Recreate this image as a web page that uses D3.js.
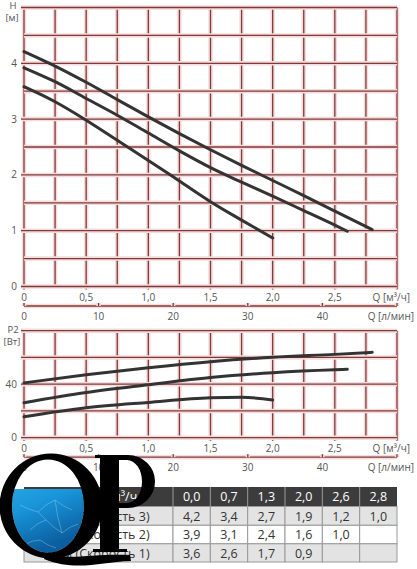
<!DOCTYPE html>
<html>
<head>
<meta charset="utf-8">
<script src="https://cdn.jsdelivr.net/npm/d3@7/dist/d3.min.js"></script>
<style>
  html, body { margin: 0; padding: 0; background: #fff; }
  svg { display: block; font-family: "Open Sans", "DejaVu Sans", sans-serif; }
</style>
</head>
<body>
<svg id="chart" width="417" height="569"></svg>
<script>
// --- data ---
// head curves H [м] against Q [м³/ч]
var headQ3 = [0, 0.25, 0.5, 0.75, 1.0, 1.25, 1.5, 1.75, 2.0, 2.25, 2.5, 2.8];
var headH3 = [4.21, 3.95, 3.66, 3.35, 3.04, 2.74, 2.45, 2.17, 1.9, 1.63, 1.35, 1.02];
var headQ2 = [0, 0.25, 0.5, 0.75, 1.0, 1.25, 1.5, 1.75, 2.0, 2.25, 2.5, 2.6];
var headH2 = [3.92, 3.67, 3.37, 3.07, 2.75, 2.43, 2.13, 1.87, 1.62, 1.36, 1.1, 0.99];
var headQ1 = [0, 0.25, 0.5, 0.75, 1.0, 1.25, 1.5, 1.75, 2.0];
var headH1 = [3.58, 3.31, 2.98, 2.62, 2.26, 1.89, 1.52, 1.19, 0.87];

// power curves P2 [Вт] against Q [м³/ч]
var powerQ3 = [0, 0.5, 1.0, 1.5, 2.0, 2.5, 2.8];
var powerP3 = [41, 47, 52.3, 56.8, 60.1, 62.3, 63.8];
var powerQ2 = [0, 0.5, 1.0, 1.5, 2.0, 2.5, 2.6];
var powerP2 = [26.2, 33.8, 39.6, 45, 48.6, 50.8, 51.1];
var powerQ1 = [0, 0.5, 1.0, 1.5, 1.75, 2.0];
var powerP1 = [15.7, 22.4, 26.4, 29.8, 30.2, 28.2];

// axis ticks
var qTicks = [0, 0.5, 1.0, 1.5, 2.0, 2.5];
var lpmTicks = [0, 10, 20, 30, 40];
var hTicks = [0, 1, 2, 3, 4];
var pTicks = [0, 40];

// table
var tableHeader = "Подача, м³/ч";
var tableFlow = [0.0, 0.7, 1.3, 2.0, 2.6, 2.8];
var tableRowNames = ["Н, м (Скорость 3)", "Н, м (Скорость 2)", "Н, м (Скорость 1)"];
var tableH3 = [4.2, 3.4, 2.7, 1.9, 1.2, 1.0];
var tableH2 = [3.9, 3.1, 2.4, 1.6, 1.0];
var tableH1 = [3.6, 2.6, 1.7, 0.9];

var svg = d3.select("#chart");
var comma = function(v) { return v === 0 ? "0" : d3.format(".1f")(v).replace(".", ","); };
var comma1 = function(v) { return d3.format(".1f")(v).replace(".", ","); };

var gridDark = "#803838", gridGlow = "#f5dcdc", textCol = "#555";

// shared x scale
var x = d3.scaleLinear().domain([0, 3]).range([24, 397]);
var yH = d3.scaleLinear().domain([0, 5]).range([286.5, 7.5]);
var yP = d3.scaleLinear().domain([0, 80]).range([437.7, 330.7]);

var line = function(y) {
  return d3.line().curve(d3.curveMonotoneX)
    .x(function(d) { return x(d[0]); })
    .y(function(d) { return y(d[1]); });
};

function glowLine(g, x1, y1, x2, y2) {
  g.append("line").attr("x1", x1).attr("y1", y1).attr("x2", x2).attr("y2", y2)
    .attr("stroke", gridGlow).attr("stroke-width", 4.5);
  g.append("line").attr("x1", x1).attr("y1", y1).attr("x2", x2).attr("y2", y2)
    .attr("stroke", gridDark).attr("stroke-width", 1.3);
}

function drawPanel(y, yGridStep, yMajor, yTickVals, unitTop, unitBot, unitY) {
  var g = svg.append("g");
  var y0 = y.range()[0], y1 = y.range()[1];
  var vx = d3.range(0, 3.001, 0.25);
  var hy = d3.range(y.domain()[0], y.domain()[1] + 0.001, yGridStep);
  vx.forEach(function(q) {
    var ext = (Math.abs(q * 2 - Math.round(q * 2)) < 1e-6) ? 3 : 0;
    glowLine(g, x(q), y1, x(q), y0 + ext);
  });
  hy.forEach(function(v) {
    var ext = (Math.abs(v / yMajor - Math.round(v / yMajor)) < 1e-6) ? 3 : 0;
    glowLine(g, x(0) - ext, y(v), x(3), y(v));
  });
  g.selectAll("text.yt").data(yTickVals).enter().append("text")
    .attr("x", 17).attr("y", function(d) { return y(d) + 3.5; })
    .attr("text-anchor", "end").attr("font-size", 10).attr("fill", textCol)
    .text(function(d) { return d; });
  g.append("text").attr("x", 13).attr("y", unitY).attr("text-anchor", "middle")
    .attr("font-size", 9.5).attr("fill", textCol).text(unitTop);
  g.append("text").attr("x", 12).attr("y", unitY + 12).attr("text-anchor", "middle")
    .attr("font-size", 9.5).attr("fill", textCol).text(unitBot);
  // Q [м³/ч] labels
  g.selectAll("text.xt").data(qTicks).enter().append("text")
    .attr("x", function(d) { return x(d); }).attr("y", y0 + 14)
    .attr("text-anchor", "middle").attr("font-size", 10).attr("fill", textCol)
    .text(comma);
  g.append("text").attr("x", 410).attr("y", y0 + 14).attr("text-anchor", "end")
    .attr("font-size", 10).attr("fill", textCol).text("Q [м³/ч]");
  // Q [л/мин] axis
  var ay = y0 + 19.5;
  glowLine(g, x(0), ay, x(3), ay);
  lpmTicks.concat([50]).forEach(function(l) {
    var xx = l === 50 ? x(3) : x(l * 0.06);
    glowLine(g, xx, ay - 3, xx, ay);
  });
  g.selectAll("text.lt").data(lpmTicks).enter().append("text")
    .attr("x", function(d) { return x(d * 0.06); }).attr("y", ay + 13.5)
    .attr("text-anchor", "middle").attr("font-size", 10).attr("fill", textCol)
    .text(function(d) { return d; });
  g.append("text").attr("x", 414).attr("y", ay + 13.5).attr("text-anchor", "end")
    .attr("font-size", 10).attr("fill", textCol).text("Q [л/мин]");
  return g;
}

var headPanel = drawPanel(yH, 0.5, 1, hTicks, "H", "[м]", 8.5);
[[headQ3, headH3], [headQ2, headH2], [headQ1, headH1]].forEach(function(s) {
  headPanel.append("path").datum(d3.zip(s[0], s[1])).attr("d", line(yH))
    .attr("fill", "none").attr("stroke", "#333").attr("stroke-width", 3)
    .attr("stroke-linecap", "round");
});

var powerPanel = drawPanel(yP, 20, 20, pTicks, "P2", "[Вт]", 332.5);
[[powerQ3, powerP3], [powerQ2, powerP2], [powerQ1, powerP1]].forEach(function(s) {
  powerPanel.append("path").datum(d3.zip(s[0], s[1])).attr("d", line(yP))
    .attr("fill", "none").attr("stroke", "#333").attr("stroke-width", 3)
    .attr("stroke-linecap", "round");
});

// --- table ---
var tx0 = 24, firstW = 149, colW = (397 - 24 - 149) / tableFlow.length;
var rowY = [487, 506.5, 525.3, 543.8, 562];
var tg = svg.append("g");
var colX = function(i) { return tx0 + firstW + i * colW; };

// header
tg.append("rect").attr("x", tx0).attr("y", rowY[0]).attr("width", 373).attr("height", rowY[1] - rowY[0])
  .attr("fill", "#3c3c3c");
tg.append("text").attr("x", tx0 + firstW / 2).attr("y", rowY[0] + 14).attr("text-anchor", "middle")
  .attr("font-size", 12.5).attr("fill", "#fff").text(tableHeader);
tableFlow.forEach(function(v, i) {
  tg.append("line").attr("x1", colX(i)).attr("x2", colX(i)).attr("y1", rowY[0]).attr("y2", rowY[1])
    .attr("stroke", "#9a9a9a").attr("stroke-width", 1);
  tg.append("text").attr("x", colX(i) + colW / 2).attr("y", rowY[0] + 14).attr("text-anchor", "middle")
    .attr("font-size", 12.5).attr("fill", "#fff").text(comma1(v));
});

// body
var bodyRows = [tableH3, tableH2, tableH1];
bodyRows.forEach(function(vals, r) {
  var ry = rowY[r + 1], rh = rowY[r + 2] - rowY[r + 1];
  var bg = r % 2 === 0 ? "#e3e3e3" : "#fff";
  tg.append("rect").attr("x", tx0).attr("y", ry).attr("width", firstW).attr("height", rh)
    .attr("fill", bg).attr("stroke", "#999").attr("stroke-width", 1);
  tg.append("text").attr("x", tx0 + firstW / 2).attr("y", ry + 14).attr("text-anchor", "middle")
    .attr("font-size", 12.5).attr("fill", "#333").text(tableRowNames[r]);
  tableFlow.forEach(function(f, i) {
    tg.append("rect").attr("x", colX(i)).attr("y", ry).attr("width", colW).attr("height", rh)
      .attr("fill", bg).attr("stroke", "#999").attr("stroke-width", 1);
    if (i < vals.length) {
      tg.append("text").attr("x", colX(i) + colW / 2).attr("y", ry + 14).attr("text-anchor", "middle")
        .attr("font-size", 12.5).attr("fill", "#333").text(comma1(vals[i]));
    }
  });
});

// --- QP logo over the table ---
function ell(cx, cy, rx, ry) {
  return "M" + (cx - rx) + "," + cy + " a" + rx + "," + ry + " 0 1,0 " + (2 * rx) + ",0" +
         " a" + rx + "," + ry + " 0 1,0 " + (-2 * rx) + ",0 Z";
}
var defs = svg.append("defs");
var grad = defs.append("linearGradient").attr("id", "water").attr("x1", 0).attr("y1", 0).attr("x2", 0.3).attr("y2", 1);
grad.append("stop").attr("offset", "0%").attr("stop-color", "#8fdcf7");
grad.append("stop").attr("offset", "10%").attr("stop-color", "#2fb0ea");
grad.append("stop").attr("offset", "55%").attr("stop-color", "#1893d8");
grad.append("stop").attr("offset", "100%").attr("stop-color", "#0b5e9f");
var wc = defs.append("clipPath").attr("id", "waterClip");
wc.append("rect").attr("x", 0).attr("y", 489).attr("width", 120).attr("height", 80);

var logo = svg.append("g");
logo.append("g").attr("clip-path", "url(#waterClip)")
  .append("path").attr("d", ell(48, 506, 36, 46.5)).attr("fill", "url(#water)");
// faint caustic streaks in the water
logo.append("g").attr("clip-path", "url(#waterClip)")
  .append("path")
  .attr("d", "M20,505 Q30,510 38,512 Q47,503 55,500 Q64,507 72,510 M30,530 Q38,522 46,520 Q54,528 62,533 Q70,526 78,524 M38,512 Q43,517 46,520 M55,500 Q57,517 62,533 M24,545 Q32,540 40,540 Q48,546 56,548")
  .attr("fill", "none").attr("stroke", "#c8f0ff").attr("stroke-opacity", 0.3).attr("stroke-width", 1);
// Q: thick ring plus tail
logo.append("path").attr("d", ell(51, 506, 51.5, 52.5) + " " + ell(48, 506, 36, 46.5))
  .attr("fill", "#000").attr("fill-rule", "evenodd");
logo.append("path")
  .attr("d", "M46,553 C66,561 96,553 130,555 L131,561 C100,562 76,572 44,559 Z")
  .attr("fill", "#000");
// P: stem, serifs and bowl
logo.append("rect").attr("x", 100).attr("y", 456).attr("width", 19).attr("height", 96).attr("fill", "#000");
logo.append("rect").attr("x", 95).attr("y", 455).attr("width", 26).attr("height", 3).attr("fill", "#000");
logo.append("rect").attr("x", 93).attr("y", 549).attr("width", 34).attr("height", 3).attr("fill", "#000");
logo.append("path")
  .attr("d", "M118,455 L128,455 A27,26.5 0 0 1 128,508 L118,508 Z M118,460 L127,460 A15,21.5 0 0 1 127,503 L118,503 Z")
  .attr("fill", "#000").attr("fill-rule", "evenodd");
</script>
</body>
</html>
